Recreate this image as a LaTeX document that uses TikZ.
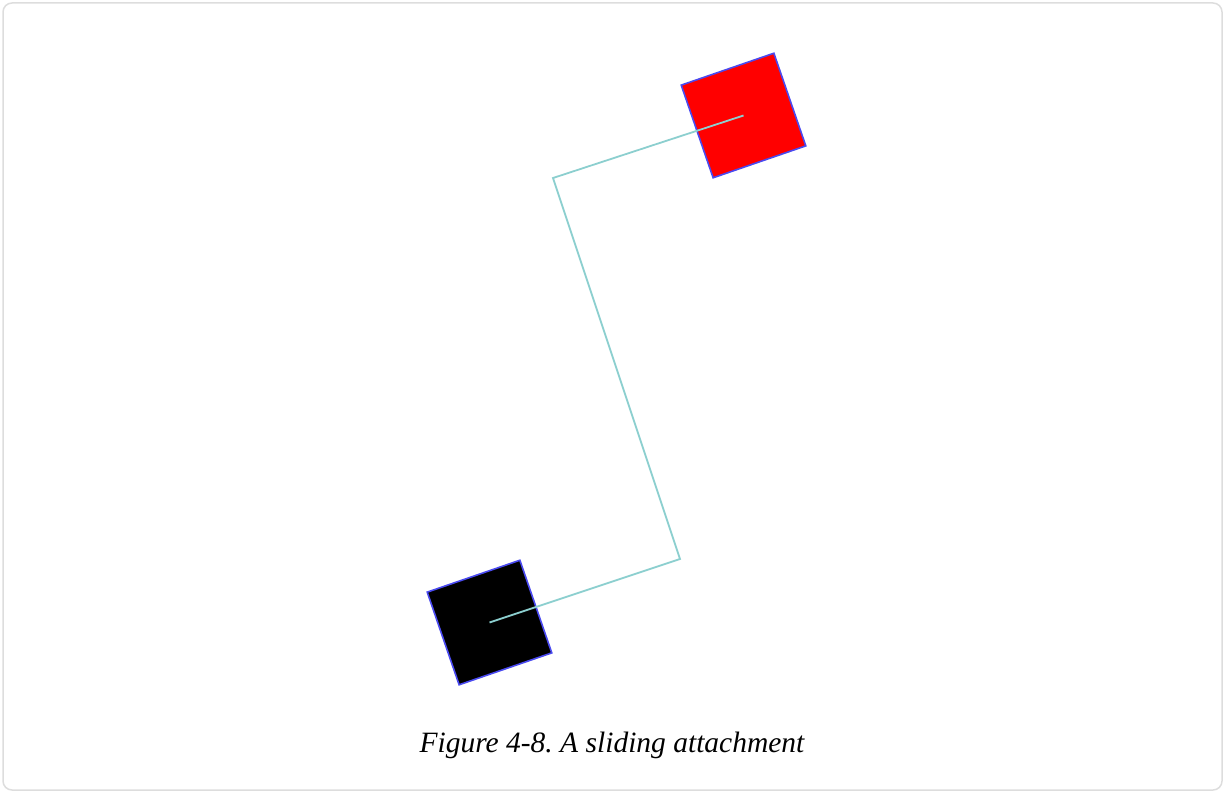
\documentclass[tikz,border=0pt]{standalone}
\usepackage{fontspec}
\setmainfont{Liberation Serif}
\usetikzlibrary{positioning}
\frenchspacing

\definecolor{framegray}{HTML}{DDDDDD}
\definecolor{edgeblue}{HTML}{4A4AF0}
\definecolor{linkcyan}{HTML}{8CCFCF}

\tikzset{
  body/.style={draw=edgeblue, line width=1.6pt, minimum size=98pt, inner sep=0pt, rotate=19},
  link/.style={draw=linkcyan, line width=1.8pt}
}

\begin{document}
\begin{tikzpicture}[x=1pt, y=-1pt]
  \useasboundingbox (0,0) rectangle (1225,792);
  \draw[framegray, line width=1.5pt, rounded corners=9pt] (3,3) rectangle (1222,790);

  % two bodies
  \node[body, fill=red] (redbox) at (743.5,115.5) {};
  \node[body, fill=black] (blackbox) at (489.5,622.5) {};

  % sliding link: centre -- bend -- bend -- centre
  \coordinate (bendA) at (553,178);
  \coordinate (bendB) at (680,559);
  \draw[link] (redbox.center) -- (bendA) -- (bendB) -- (blackbox.center);

  \node (caption) at (612,745) {\fontsize{29.5}{34}\selectfont\itshape Figure 4-8. A sliding attachment};
\end{tikzpicture}
\end{document}
